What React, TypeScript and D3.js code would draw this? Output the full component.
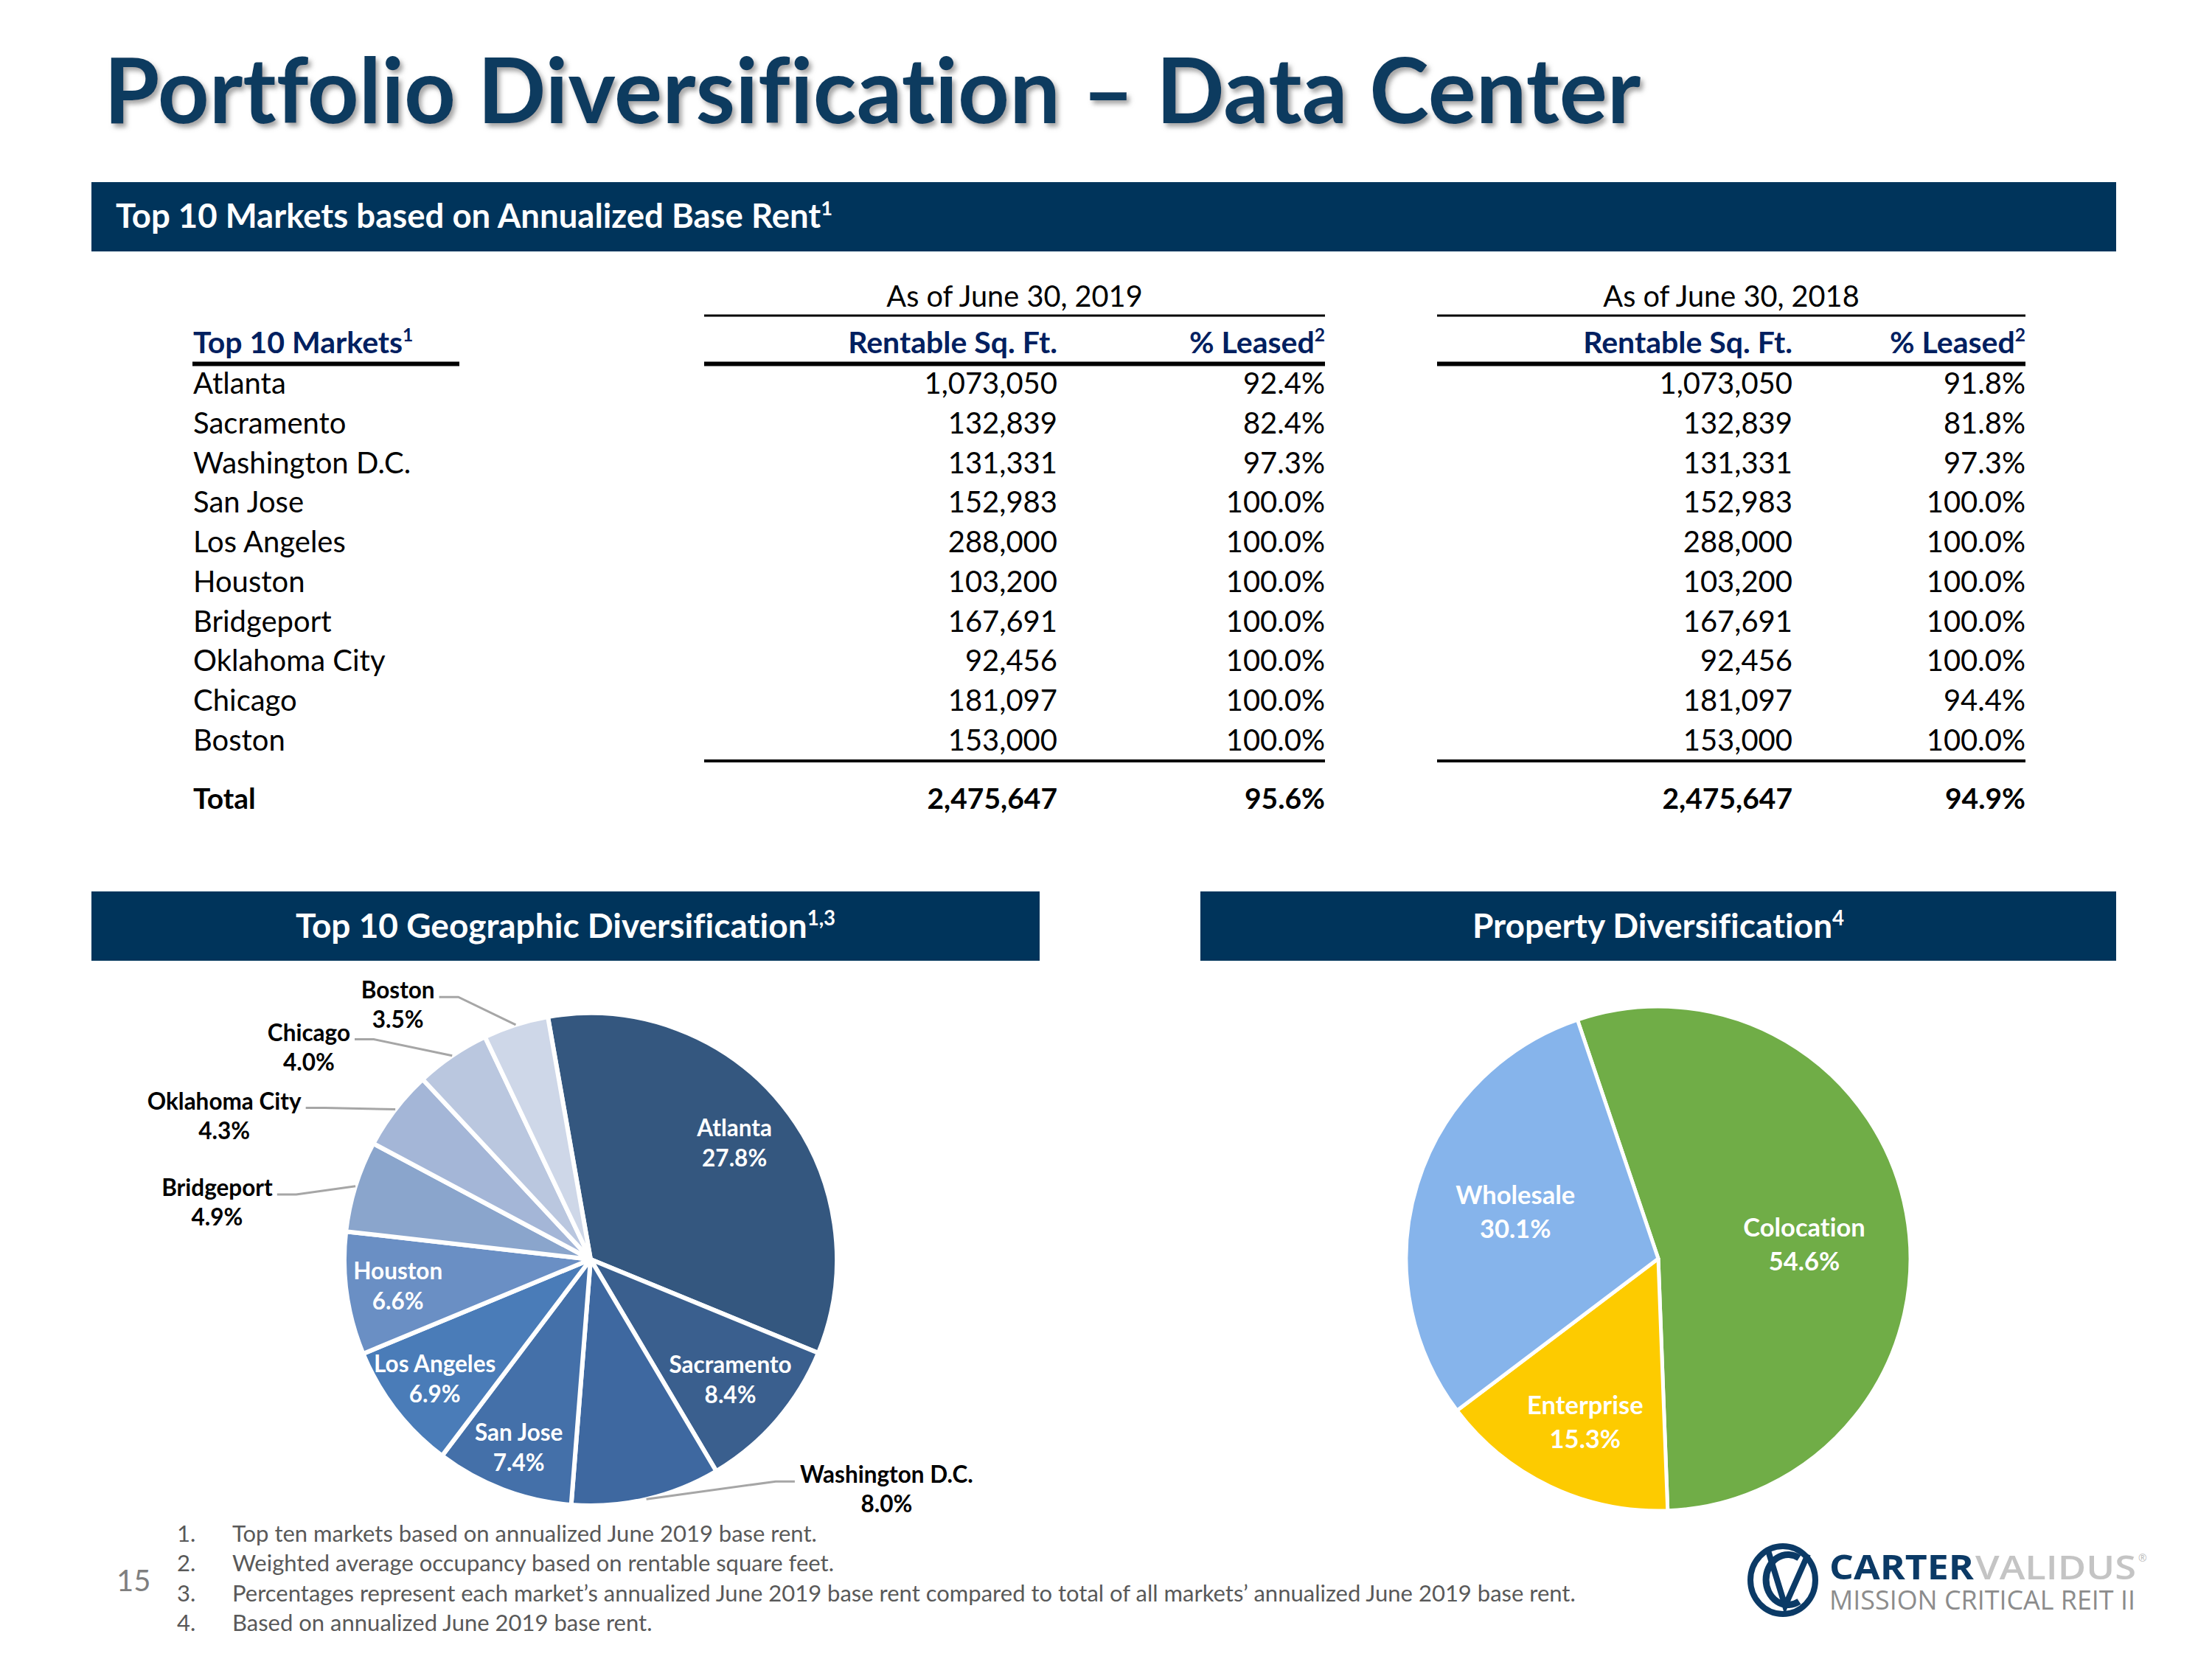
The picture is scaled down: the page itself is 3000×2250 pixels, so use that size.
import React, { useEffect, useRef } from "react";
import * as d3 from "d3";

// ---------- data ----------
const markets = ["Atlanta", "Sacramento", "Washington D.C.", "San Jose", "Los Angeles", "Houston", "Bridgeport", "Oklahoma City", "Chicago", "Boston"];
const sqft2019 = [1073050, 132839, 131331, 152983, 288000, 103200, 167691, 92456, 181097, 153000];
const leased2019 = [92.4, 82.4, 97.3, 100.0, 100.0, 100.0, 100.0, 100.0, 100.0, 100.0];
const sqft2018 = [1073050, 132839, 131331, 152983, 288000, 103200, 167691, 92456, 181097, 153000];
const leased2018 = [91.8, 81.8, 97.3, 100.0, 100.0, 100.0, 100.0, 100.0, 94.4, 100.0];
const totalSqft2019 = 2475647;
const totalLeased2019 = 95.6;
const totalSqft2018 = 2475647;
const totalLeased2018 = 94.9;

const geoShare = [27.8, 8.4, 8.0, 7.4, 6.9, 6.6, 4.9, 4.3, 4.0, 3.5];
const geoColors = ["#34577F", "#3A5F8E", "#3E68A0", "#4470A9", "#4A7CB8", "#6A8FC4", "#8AA5CC", "#A4B6D7", "#BAC7DF", "#CED7E8"];
const geoOutside = ["Washington D.C.", "Bridgeport", "Oklahoma City", "Chicago", "Boston"];

const propertyTypes = ["Colocation", "Enterprise", "Wholesale"];
const propertyShare = [54.6, 15.3, 30.1];
const propertyColors = ["#70AD47", "#FDCB00", "#86B4EB"];

const footnotes = [
  "Top ten markets based on annualized June 2019 base rent.",
  "Weighted average occupancy based on rentable square feet.",
  "Percentages represent each market\u2019s annualized June 2019 base rent compared to total of all markets\u2019 annualized June 2019 base rent.",
  "Based on annualized June 2019 base rent.",
];

// ---------- layout (not data) ----------
const FONT = "Lato, 'Open Sans', sans-serif";
const NAVY = "#00345B";
const HEAD_BLUE = "#002060";
// inside label radius factors for geo pie
const geoInsideR: Record<string, number> = {
  Atlanta: 0.75, Sacramento: 0.75, "San Jose": 0.82, "Los Angeles": 0.8, Houston: 0.79,
};
// outside label anchors for geo pie: [angle deg, radius factor, side]
const geoOutsideAnchor: Record<string, [number, number, number]> = {
  "Washington D.C.": [137.4, 1.225, 1],
  Bridgeport: [281.7, 1.3, -1],
  "Oklahoma City": [298, 1.31, -1],
  Chicago: [313, 1.31, -1],
  Boston: [330, 1.23, -1],
};
const propLabelPlace: Record<string, [number, number]> = {
  Colocation: [7, 0.58],
  Enterprise: [-2, 0.73],
  Wholesale: [-1, 0.59],
};

const rad = (d: number) => (d * Math.PI) / 180;

export default function App() {
  const ref = useRef<SVGSVGElement>(null);

  useEffect(() => {
    const svg = d3.select(ref.current);
    svg.selectAll("*").remove();
    const fmtInt = d3.format(",");
    const fmtPct = (v: number) => d3.format(".1f")(v) + "%";

    const defs = svg.append("defs");
    const f = defs.append("filter").attr("id", "shadow").attr("x", "-5%").attr("y", "-20%").attr("width", "115%").attr("height", "150%");
    f.append("feDropShadow").attr("dx", 4).attr("dy", 5).attr("stdDeviation", 3).attr("flood-color", "#7f7f7f").attr("flood-opacity", 0.7);

    function txt(parent: any, x: number, y: number, s: string, sup: string | null, opts: any) {
      const t = parent.append("text").attr("x", x).attr("y", y)
        .attr("font-family", FONT).attr("font-size", opts.size)
        .attr("font-weight", opts.weight || 400).attr("fill", opts.fill || "#000")
        .attr("text-anchor", opts.anchor || "start");
      t.append("tspan").text(s);
      if (sup) {
        t.append("tspan").attr("font-size", opts.size * 0.6).attr("dy", -opts.size * 0.38).text(sup);
      }
      return t;
    }

    // title
    txt(svg, 141, 167, "Portfolio Diversification \u2013 Data Center", null, { size: 122, weight: 700, fill: "#0E3B5F" })
      .attr("filter", "url(#shadow)");

    // top banner
    svg.append("rect").attr("x", 124).attr("y", 247).attr("width", 2746).attr("height", 94).attr("fill", NAVY);
    txt(svg, 157, 309, "Top 10 Markets based on Annualized Base Rent", "1", { size: 45.5, weight: 700, fill: "#fff" });

    // table
    const tbl = svg.append("g");
    const colR = [1434, 1797, 2431, 2747];
    const groupSpans = [[955, 1797], [1949, 2747]];
    const rowSize = 40;
    txt(tbl, 1376, 416, "As of June 30, 2019", null, { size: 39.7, anchor: "middle" });
    txt(tbl, 2348, 416, "As of June 30, 2018", null, { size: 39.7, anchor: "middle" });
    groupSpans.forEach(([a, b]) => {
      tbl.append("rect").attr("x", a).attr("y", 426.5).attr("width", b - a).attr("height", 3).attr("fill", "#000");
      tbl.append("rect").attr("x", a).attr("y", 490.5).attr("width", b - a).attr("height", 6).attr("fill", "#000");
      tbl.append("rect").attr("x", a).attr("y", 1030).attr("width", b - a).attr("height", 4).attr("fill", "#000");
    });
    tbl.append("rect").attr("x", 261).attr("y", 490.5).attr("width", 362).attr("height", 6).attr("fill", "#000");
    const hdr = { size: 41, weight: 700, fill: HEAD_BLUE };
    txt(tbl, 262, 479, "Top 10 Markets", "1", hdr);
    txt(tbl, colR[0], 479, "Rentable Sq. Ft.", null, { ...hdr, anchor: "end" });
    txt(tbl, colR[1], 479, "% Leased", "2", { ...hdr, anchor: "end" });
    txt(tbl, colR[2], 479, "Rentable Sq. Ft.", null, { ...hdr, anchor: "end" });
    txt(tbl, colR[3], 479, "% Leased", "2", { ...hdr, anchor: "end" });

    const rowY = d3.scalePoint<string>().domain(markets).range([534, 1018]);
    markets.forEach((m, i) => {
      const y = rowY(m)!;
      const o = { size: rowSize };
      txt(tbl, 262, y, m, null, o);
      txt(tbl, colR[0], y, fmtInt(sqft2019[i]), null, { ...o, anchor: "end" });
      txt(tbl, colR[1], y, fmtPct(leased2019[i]), null, { ...o, anchor: "end" });
      txt(tbl, colR[2], y, fmtInt(sqft2018[i]), null, { ...o, anchor: "end" });
      txt(tbl, colR[3], y, fmtPct(leased2018[i]), null, { ...o, anchor: "end" });
    });
    const tot = { size: 39, weight: 700 };
    txt(tbl, 262, 1097, "Total", null, tot);
    txt(tbl, colR[0], 1097, fmtInt(totalSqft2019), null, { ...tot, anchor: "end" });
    txt(tbl, colR[1], 1097, fmtPct(totalLeased2019), null, { ...tot, anchor: "end" });
    txt(tbl, colR[2], 1097, fmtInt(totalSqft2018), null, { ...tot, anchor: "end" });
    txt(tbl, colR[3], 1097, fmtPct(totalLeased2018), null, { ...tot, anchor: "end" });

    // section banners
    svg.append("rect").attr("x", 124).attr("y", 1209).attr("width", 1286).attr("height", 94).attr("fill", NAVY);
    svg.append("rect").attr("x", 1628).attr("y", 1209).attr("width", 1242).attr("height", 94).attr("fill", NAVY);
    txt(svg, 767, 1272, "Top 10 Geographic Diversification", "1,3", { size: 46, weight: 700, fill: "#fff", anchor: "middle" });
    txt(svg, 2249, 1272, "Property Diversification", "4", { size: 46, weight: 700, fill: "#fff", anchor: "middle" });

    // ---------- geographic pie ----------
    const g1 = svg.append("g").attr("transform", "translate(801,1708)");
    const r1 = 334;
    const pie1 = d3.pie<number>().sort(null).value((d) => d).startAngle(rad(-10)).endAngle(rad(350));
    const arcs1 = pie1(geoShare);
    const arc1 = d3.arc<d3.PieArcDatum<number>>().innerRadius(0).outerRadius(r1);
    g1.selectAll("path.s").data(arcs1).join("path").attr("class", "s")
      .attr("d", arc1 as any).attr("fill", (_d, i) => geoColors[i])
      .attr("stroke", "#fff").attr("stroke-width", 6).attr("stroke-linejoin", "round");

    const lblSize1 = 31.5;
    arcs1.forEach((a, i) => {
      const name = markets[i];
      const mid = (a.startAngle + a.endAngle) / 2;
      const pct = fmtPct(geoShare[i]);
      if (!geoOutside.includes(name)) {
        const rr = r1 * (geoInsideR[name] ?? 0.78);
        const cx = rr * Math.sin(mid);
        const cy = -rr * Math.cos(mid);
        txt(g1, cx, cy - 10, name, null, { size: lblSize1, weight: 700, fill: "#fff", anchor: "middle" });
        txt(g1, cx, cy + 31, pct, null, { size: lblSize1, weight: 700, fill: "#fff", anchor: "middle" });
      } else {
        const [ang, rf, side] = geoOutsideAnchor[name];
        const ax = r1 * rf * Math.sin(rad(ang));
        const ay = -r1 * rf * Math.cos(rad(ang));
        const ex = r1 * Math.sin(mid);
        const ey = -r1 * Math.cos(mid);
        const elbowX = ax - side * 26;
        g1.append("path").attr("d", d3.line()([[ex, ey], [elbowX, ay], [ax, ay]]) as string)
          .attr("fill", "none").attr("stroke", "#A6A6A6").attr("stroke-width", 3);
        const t1 = txt(g1, 0, ay + 2, name, null, { size: lblSize1, weight: 700, fill: "#000", anchor: "middle" });
        const w = (t1.node() as SVGTextElement).getComputedTextLength();
        const cx = side < 0 ? ax - 6 - w / 2 : ax + 7 + w / 2;
        t1.attr("x", cx);
        txt(g1, cx, ay + 42, pct, null, { size: lblSize1, weight: 700, fill: "#000", anchor: "middle" });
      }
    });

    // ---------- property pie ----------
    const g2 = svg.append("g").attr("transform", "translate(2249,1707)");
    const r2 = 342;
    const pie2 = d3.pie<number>().sort(null).value((d) => d).startAngle(rad(-18.7)).endAngle(rad(341.3));
    const arcs2 = pie2(propertyShare);
    const arc2 = d3.arc<d3.PieArcDatum<number>>().innerRadius(0).outerRadius(r2);
    g2.selectAll("path.s").data(arcs2).join("path").attr("class", "s")
      .attr("d", arc2 as any).attr("fill", (_d, i) => propertyColors[i])
      .attr("stroke", "#fff").attr("stroke-width", 5).attr("stroke-linejoin", "round");
    const lblSize2 = 34.5;
    arcs2.forEach((a, i) => {
      const name = propertyTypes[i];
      const [shift, rf] = propLabelPlace[name];
      const mid = (a.startAngle + a.endAngle) / 2 + rad(shift);
      const rr = r2 * rf;
      const cx = rr * Math.sin(mid);
      const cy = -rr * Math.cos(mid);
      txt(g2, cx, cy - 18, name, null, { size: lblSize2, weight: 700, fill: "#fff", anchor: "middle" });
      txt(g2, cx, cy + 28, fmtPct(propertyShare[i]), null, { size: lblSize2, weight: 700, fill: "#fff", anchor: "middle" });
    });

    // ---------- footnotes ----------
    const fnY = d3.scaleLinear().domain([0, 3]).range([2091, 2212]);
    footnotes.forEach((s, i) => {
      txt(svg, 240, fnY(i), `${i + 1}.`, null, { size: 31, fill: "#595959" });
      txt(svg, 315, fnY(i), s, null, { size: 31, fill: "#595959" });
    });
    txt(svg, 158, 2158, "15", null, { size: 40, fill: "#7F7F7F" });

    // ---------- logo ----------
    const lg = svg.append("g");
    lg.append("ellipse").attr("cx", 2418).attr("cy", 2143).attr("rx", 44).attr("ry", 46)
      .attr("fill", "none").attr("stroke", "#0B3A66").attr("stroke-width", 8);
    lg.append("path").attr("d", "M2398,2103 L2421,2178 L2452,2108").attr("fill", "none").attr("stroke", "#0B3A66").attr("stroke-width", 8);
    lg.append("path").attr("d", "M2440,2113 A30,34 0 1 0 2440,2172").attr("fill", "none").attr("stroke", "#0B3A66").attr("stroke-width", 9);
    lg.append("text").attr("x", 2481).attr("y", 2142).attr("font-family", "'Open Sans', sans-serif").attr("font-weight", 700)
      .attr("font-size", 46).attr("fill", "#0B3A66").attr("textLength", 196).attr("lengthAdjust", "spacingAndGlyphs").text("CARTER");
    lg.append("text").attr("x", 2679).attr("y", 2142).attr("font-family", "'Open Sans', sans-serif").attr("font-weight", 600)
      .attr("font-size", 46).attr("fill", "#C4C4C4").attr("textLength", 218).attr("lengthAdjust", "spacingAndGlyphs").text("VALIDUS");
    lg.append("text").attr("x", 2900).attr("y", 2118).attr("font-family", "'Open Sans', sans-serif")
      .attr("font-size", 14).attr("fill", "#BDBDBD").text("\u00AE");
    lg.append("text").attr("x", 2481).attr("y", 2183).attr("font-family", "'Open Sans', sans-serif").attr("font-weight", 400)
      .attr("font-size", 36).attr("fill", "#8C8C8C").attr("textLength", 415).attr("lengthAdjust", "spacingAndGlyphs").text("MISSION CRITICAL REIT II");
  }, []);

  return (
    <svg ref={ref} width={3000} height={2250} viewBox="0 0 3000 2250"
      style={{ position: "absolute", left: 0, top: 0, background: "#fff", fontVariantLigatures: "none" }} />
  );
}
